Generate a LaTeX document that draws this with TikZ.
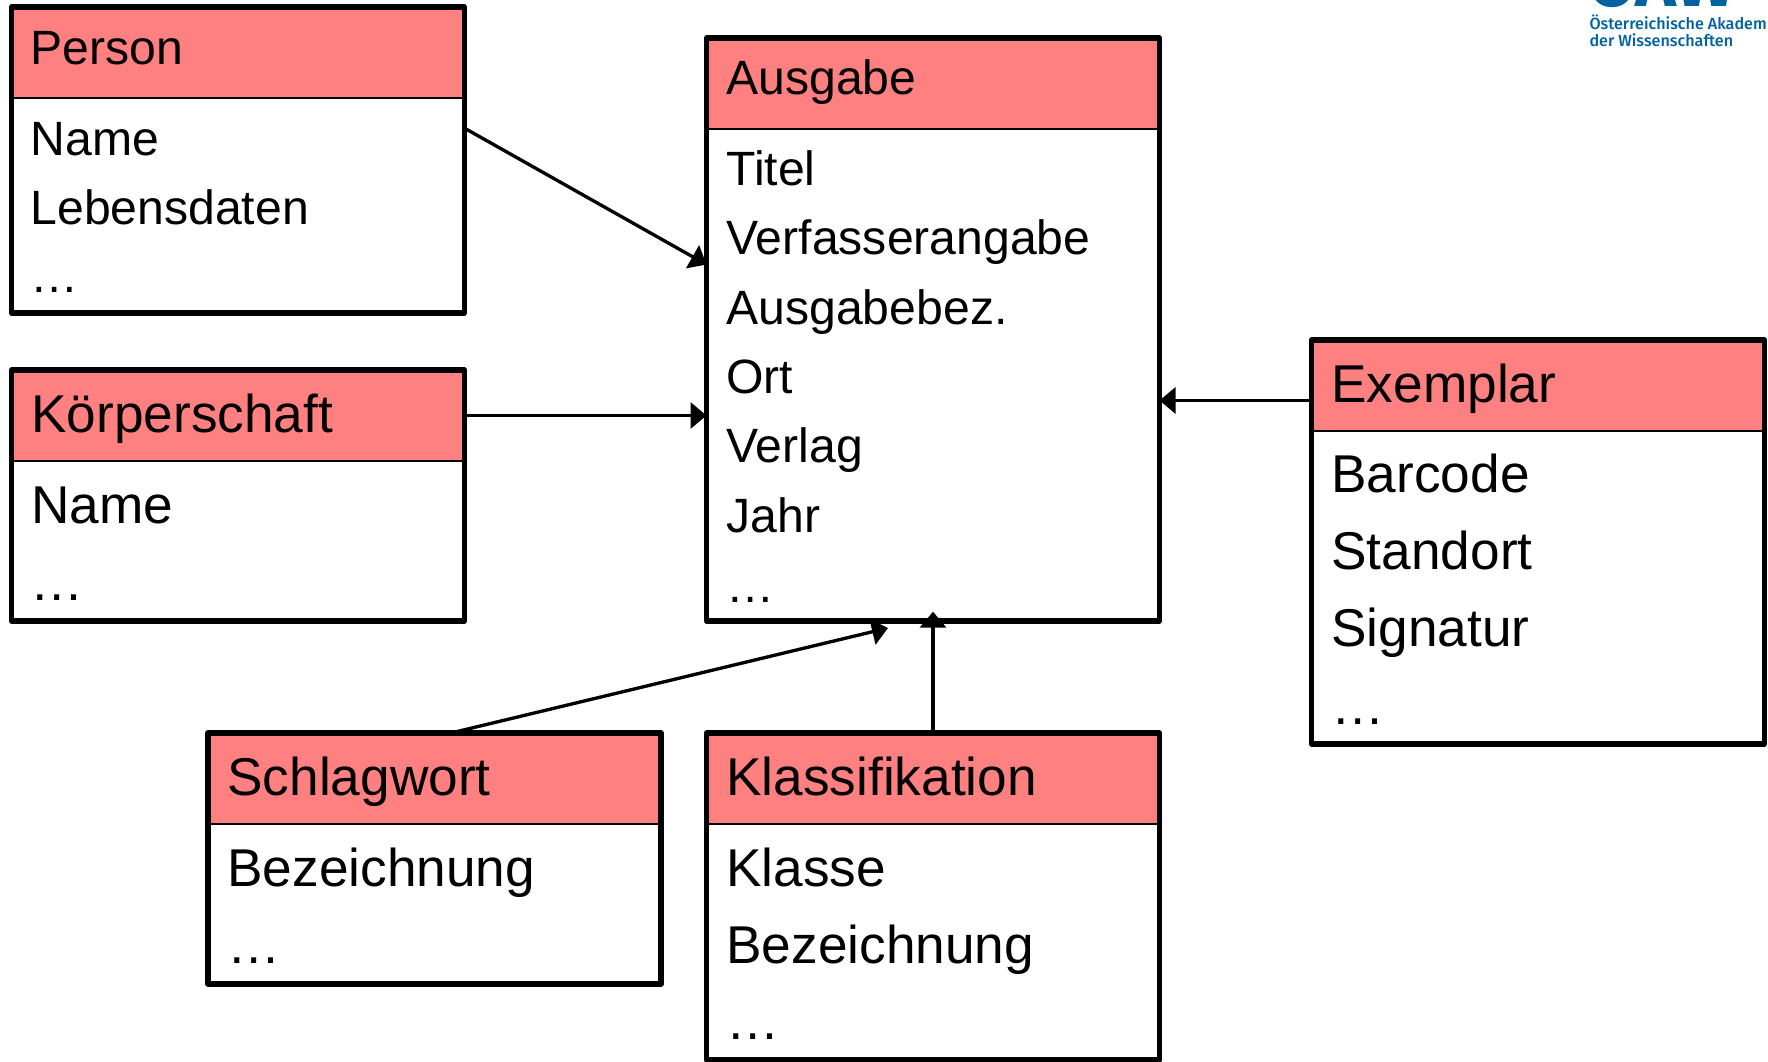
\documentclass[tikz,border=0pt]{standalone}
\usepackage{fontspec}
\setmainfont{Liberation Sans}
\newfontfamily\logofont{Fira Sans Medium}
\newfontfamily\logomarkfont{Fira Sans}
\usetikzlibrary{arrows.meta}

\definecolor{headred}{RGB}{255,128,128}
\definecolor{logoblue}{RGB}{0,98,160}

\tikzset{every picture/.style={line width=0.75pt}}
\tikzset{
  entitybox/.style={draw,line width=4pt,line join=round,minimum width=339.75pt,inner sep=0pt,outer sep=0pt},
  entityhead/.style={draw,fill=headred,line width=1.5pt,minimum width=339.75pt,minimum height=68.25pt,inner sep=0pt,outer sep=0pt},
  smalltext/.style={anchor=base west,inner sep=0pt,font=\fontsize{36.1pt}{36.1pt}\selectfont},
  bigtext/.style={anchor=base west,inner sep=0pt,font=\fontsize{39.9pt}{39.9pt}\selectfont},
  conn/.style={line width=2.5pt,-{Triangle[length=12pt,width=19.5pt]}},
  logotext/.style={anchor=base west,inner sep=0pt,text=logoblue}
}

\begin{document}
\begin{tikzpicture}[x=0.75pt,y=0.75pt,yscale=-1,xscale=1]
\useasboundingbox (0,0) rectangle (1768,1062);

%Shape: Person
\node [entityhead,anchor=north west] (personHead) at (11.5,7) {};
\node [entitybox,anchor=north west,minimum height=229.5pt] (person) at (11.5,7) {};
%Shape: Ausgabe
\node [entityhead,anchor=north west] (ausgabeHead) at (706.5,38) {};
\node [entitybox,anchor=north west,minimum height=437.25pt] (ausgabe) at (706.5,38) {};
%Shape: Koerperschaft
\node [entityhead,anchor=north west] (koerperHead) at (11.5,370) {};
\node [entitybox,anchor=north west,minimum height=188.25pt] (koerper) at (11.5,370) {};
%Shape: Exemplar
\node [entityhead,anchor=north west] (exemplarHead) at (1311.5,340) {};
\node [entitybox,anchor=north west,minimum height=303pt] (exemplar) at (1311.5,340) {};
%Shape: Schlagwort
\node [entityhead,anchor=north west] (schlagHead) at (208,733) {};
\node [entitybox,anchor=north west,minimum height=188.25pt] (schlag) at (208,733) {};
%Shape: Klassifikation
\node [entityhead,anchor=north west] (klassHead) at (706.5,733) {};
\node [entitybox,anchor=north west,minimum height=245.25pt] (klass) at (706.5,733) {};

%Straight Lines
\coordinate (schlagEnd) at (888,628);
\draw [conn] (person.8.2) -- (ausgabe.164.2);
\draw [conn] (koerperHead.east) -- (koerperHead.east -| ausgabe.west);
\draw [conn] (exemplar.148) -- (exemplar.148 -| ausgabe.east);
\draw [conn] (schlagHead.70) -- (schlagEnd);
\draw [conn,shorten >=-7pt] (klassHead.north) -- (ausgabe.south);

% Text Node
\node [smalltext] (personTitle) at (30,65) {Person};
\node [smalltext] (personName) at (30,156) {Name};
\node [smalltext] (personDates) at (30,225) {Lebensdaten};
\node [smalltext] (personMore) at (30,293) {…};
% Text Node
\node [smalltext] (ausgabeTitle) at (726,95) {Ausgabe};
\node [smalltext] (ausgabeTitel) at (726,186) {Titel};
\node [smalltext] (ausgabeVerf) at (726,255) {Verfasserangabe};
\node [smalltext] (ausgabeBez) at (726,324.5) {Ausgabebez.};
\node [smalltext] (ausgabeOrt) at (726,393.5) {Ort};
\node [smalltext] (ausgabeVerlag) at (726,463) {Verlag};
\node [smalltext] (ausgabeJahr) at (726,532.5) {Jahr};
\node [smalltext] (ausgabeMore) at (726,602) {…};
% Text Node
\node [bigtext] (koerperTitle) at (31,433) {Körperschaft};
\node [bigtext] (koerperName) at (31,523) {Name};
\node [bigtext] (koerperMore) at (30.5,600.5) {…};
% Text Node
\node [bigtext] (exemplarTitle) at (1331,403) {Exemplar};
\node [bigtext] (exemplarBarcode) at (1331,493) {Barcode};
\node [bigtext] (exemplarOrt) at (1331,569) {Standort};
\node [bigtext] (exemplarSig) at (1331,646) {Signatur};
\node [bigtext] (exemplarMore) at (1331,724) {…};
% Text Node
\node [bigtext] (schlagTitle) at (227,795) {Schlagwort};
\node [bigtext] (schlagBez) at (227,886) {Bezeichnung};
\node [bigtext] (schlagMore) at (227,963.5) {…};
% Text Node
\node [bigtext] (klassTitle) at (726,795) {Klassifikation};
\node [bigtext] (klassName) at (726,886) {Klasse};
\node [bigtext] (klassBez) at (726,963) {Bezeichnung};
\node [bigtext] (klassMore) at (726,1039.5) {…};
% Text Node
\node [logotext,font=\logomarkfont\bfseries\fontsize{52pt}{52pt}\selectfont] (logoMark) at (1588,7) {ÖAW};
\node [logotext,font=\logofont\fontsize{12.1pt}{12.1pt}\selectfont] (logoLineA) at (1589,30) {Österreichische Akadem};
\node [logotext,font=\logofont\fontsize{12.1pt}{12.1pt}\selectfont] (logoLineB) at (1589,47) {der Wissenschaften};

\end{tikzpicture}
\end{document}
